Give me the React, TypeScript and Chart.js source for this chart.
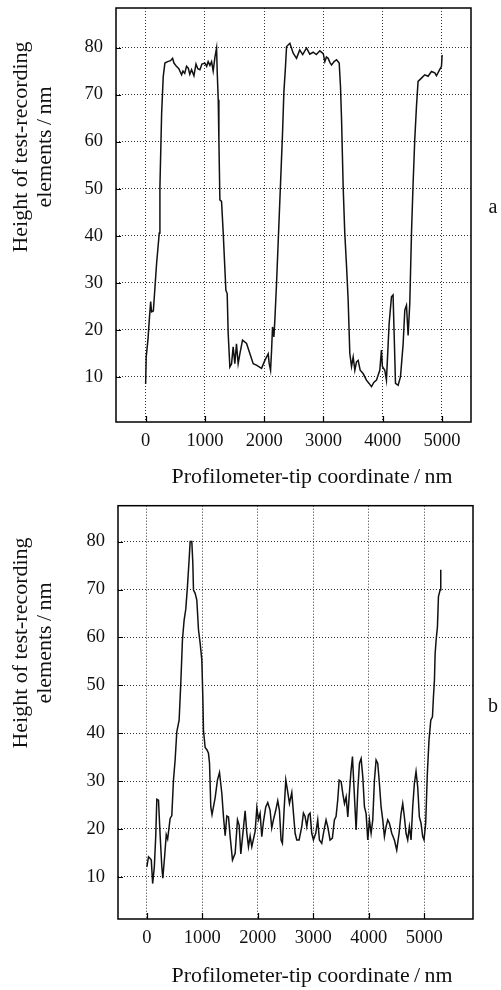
import React, { useEffect, useRef } from "react";
import { Chart, registerables } from "chart.js";

Chart.register(...registerables);

const xTickValues = [0, 1000, 2000, 3000, 4000, 5000];
const yTickValues = [10, 20, 30, 40, 50, 60, 70, 80];
const xTitle = "Profilometer-tip coordinate\u2009/\u2009nm";
const yTitleLine1 = "Height of test-recording";
const yTitleLine2 = "elements\u2009/\u2009nm";

// Panel a: profilometer coordinate (nm) and height (nm)
const coordA = [
  0, 10, 40, 61, 85, 100, 130, 185, 230, 241, 270, 297, 325, 370, 420, 455, 478, 520, 560, 607,
  630, 660, 690, 720, 745, 775, 815, 850, 880, 916, 950, 1000, 1030, 1055, 1085, 1113, 1140, 1170, 1197, 1208,
  1225, 1236, 1253, 1281, 1309, 1354, 1376, 1393, 1421, 1450, 1477, 1505, 1533, 1561, 1590, 1635, 1703, 1760, 1815, 1870,
  1956, 2012, 2068, 2085, 2108, 2125, 2141, 2164, 2180, 2209, 2265, 2310, 2332, 2360, 2378, 2434, 2490, 2546, 2600, 2650,
  2715, 2770, 2827, 2880, 2940, 2997, 3024, 3050, 3080, 3110, 3137, 3180, 3221, 3266, 3288, 3306, 3333, 3360, 3390, 3417,
  3445, 3474, 3502, 3530, 3558, 3586, 3620, 3670, 3726, 3770, 3811, 3850, 3895, 3951, 3979, 3995, 4035, 4063, 4109, 4148,
  4175, 4193, 4216, 4260, 4300, 4345, 4373, 4401, 4429, 4457, 4486, 4513, 4541, 4570, 4597, 4654, 4710, 4766, 4823, 4879,
  4907, 4952, 4992, 5003,
];
const heightA = [
  8.5, 14.3, 18, 22, 26, 23.8, 24, 34.1, 40.6, 50.4, 66, 73.8, 76.7, 77, 77.2, 77.7, 76.7, 76, 75.5, 74.2,
  75, 74.5, 76, 75.6, 74.3, 75.3, 74, 76.5, 75.5, 75.3, 76.5, 76.7, 76, 77, 76.2, 77, 75, 78, 79.9, 74.8,
  68.9, 60.4, 47.6, 47.3, 40.6, 28.4, 27.7, 19.2, 12.1, 12.8, 16.4, 12.8, 17, 12.8, 14.9, 17.8, 17.1, 14.9, 12.8, 12.5,
  11.8, 13.5, 14.9, 12.8, 11.4, 15.6, 20.6, 18.5, 22, 29.9, 47.6, 61.8, 70.3, 76, 80.2, 80.9, 78.8, 77.7, 79.5, 78.5,
  79.9, 78.6, 79, 78.5, 79.3, 78.7, 77, 78, 77.7, 76.8, 76.3, 77, 77.4, 76.7, 71.7, 64.6, 50.4, 40.6, 33.5, 26.4,
  15, 12.2, 14.2, 11.4, 13.2, 13.5, 11.4, 10.7, 9.3, 8.6, 7.9, 8.8, 9.3, 11.4, 15.7, 12.2, 11.4, 9.3, 21.4, 27,
  27.4, 19.2, 8.6, 8.2, 10, 17, 24.2, 25.2, 18.8, 25.6, 40.6, 51.1, 60.4, 67.5, 72.8, 73.5, 74.2, 73.9, 74.9, 74.6,
  74, 75.1, 76, 78.4,
];

// Panel b
const coordB = [
  0, 30, 55, 80, 105, 135, 160, 180, 210, 240, 270, 288, 320, 350, 375, 420, 450, 480, 510, 540,
  582, 612, 642, 672, 702, 732, 762, 781, 811, 829, 841, 871, 901, 931, 961, 991, 1009, 1021, 1051, 1085,
  1111, 1130, 1153, 1175, 1231, 1273, 1310, 1352, 1382, 1412, 1442, 1472, 1502, 1544, 1592, 1634, 1664, 1694, 1724, 1772,
  1802, 1832, 1862, 1892, 1952, 1983, 2012, 2042, 2072, 2102, 2144, 2180, 2222, 2252, 2282, 2324, 2360, 2390, 2420, 2444,
  2474, 2505, 2535, 2571, 2613, 2643, 2673, 2703, 2745, 2793, 2823, 2853, 2883, 2913, 2943, 2973, 3003, 3045, 3081, 3111,
  3153, 3195, 3231, 3261, 3303, 3345, 3381, 3411, 3441, 3467, 3503, 3533, 3563, 3593, 3623, 3647, 3677, 3707, 3737, 3773,
  3803, 3833, 3863, 3893, 3923, 3953, 3983, 4013, 4043, 4073, 4103, 4133, 4163, 4193, 4223, 4253, 4283, 4313, 4343, 4373,
  4415, 4463, 4505, 4547, 4583, 4613, 4643, 4673, 4703, 4733, 4763, 4793, 4823, 4853, 4883, 4913, 4943, 4973, 4997, 5027,
  5057, 5087, 5119, 5149, 5167, 5185, 5197, 5215, 5239, 5257, 5287, 5299,
];
const heightB = [
  12.1, 14.2, 13.9, 13.5, 8.6, 12.1, 18.4, 26.2, 26, 18.6, 12.1, 9.7, 14.2, 18.8, 17.9, 22.2, 22.8, 30.2, 34.4, 40.3,
  42.7, 50.4, 59.5, 63.6, 65.9, 70.6, 76.2, 80, 80, 75.5, 69.9, 69.2, 67.8, 61.6, 58.8, 55.3, 47.7, 40.6, 37, 36.5,
  35.8, 33.7, 24.6, 23, 26.5, 30.2, 31.8, 27.4, 22.5, 18.6, 22.7, 22.5, 18.4, 13.5, 14.9, 21.9, 20.8, 14.8, 18.2, 23.8,
  19.2, 16.3, 18.5, 16.3, 19.5, 24.4, 22, 23.3, 18.4, 21.5, 24.6, 25.5, 23.9, 20.2, 21.9, 23.9, 25.9, 23.9, 17.7, 17,
  23.9, 30.2, 28.1, 25.3, 27.6, 23.3, 19.1, 17.7, 17.7, 20.5, 23.3, 22.6, 20.5, 22.9, 23.3, 19.1, 17.7, 19.1, 21.9, 17.7,
  17, 19.8, 21.9, 20.5, 17.7, 18.1, 21.9, 22.6, 26, 30.2, 29.9, 27.4, 25.3, 26.7, 22.5, 26.7, 31.6, 35.1, 28.1, 19.8,
  28.1, 33.7, 34.7, 30.9, 24.6, 23.2, 17.7, 21.9, 19.1, 21.9, 30.2, 34.4, 33.7, 29.5, 24.6, 21.9, 18.4, 20.5, 21.9, 21.2,
  19.1, 17.7, 15.6, 19.1, 23.2, 25.3, 22.5, 19.1, 17.7, 20.5, 17.7, 24.6, 29.5, 32, 28.8, 22.5, 21.2, 18.4, 17.7, 21.2,
  31.6, 38.6, 42.7, 43.4, 47.6, 51.1, 56.6, 59.4, 62.2, 68.5, 69.9, 74.1,
];

const SERIF = '"Liberation Serif", "Times New Roman", serif';

type PanelCfg = {
  xs: number[];
  ys: number[];
  xMin: number;
  xMax: number;
  yMin: number;
  yMax: number;
  padTop: number;
  padRight: number;
  yAxisWidth: number;
  xAxisHeight: number;
  letter: string;
  letterY: number;
  xTitleY: number;
  yTitleY: number;
};

function stretchedText(ctx: CanvasRenderingContext2D, text: string, x: number, y: number, targetWidth: number) {
  const w = ctx.measureText(text).width;
  const s = targetWidth / w;
  ctx.save();
  ctx.translate(x, y);
  ctx.scale(s, 1);
  ctx.fillText(text, 0, 0);
  ctx.restore();
}

const decorPlugin = {
  id: "decor",
  afterDraw(chart: any, _args: any, o: any) {
    const { ctx, chartArea: a, scales } = chart;
    ctx.save();
    ctx.strokeStyle = "#000";
    ctx.lineWidth = 1.5;
    ctx.setLineDash([]);
    ctx.strokeRect(a.left, a.top, a.right - a.left, a.bottom - a.top);
    ctx.lineWidth = 1.2;
    ctx.beginPath();
    xTickValues.forEach((v) => {
      const px = Math.round(scales.x.getPixelForValue(v)) + 0.5;
      ctx.moveTo(px, a.bottom);
      ctx.lineTo(px, a.bottom - 6);
    });
    yTickValues.forEach((v) => {
      const py = Math.round(scales.y.getPixelForValue(v)) + 0.5;
      ctx.moveTo(a.left, py);
      ctx.lineTo(a.left + 5, py);
    });
    ctx.stroke();

    ctx.fillStyle = "#111";
    ctx.font = `20px ${SERIF}`;
    ctx.textAlign = "center";
    ctx.textBaseline = "alphabetic";
    stretchedText(ctx, xTitle, 312, o.xTitleY, 281);

    ctx.textAlign = "center";
    ctx.textBaseline = "middle";
    ctx.fillText(o.letter, 493, o.letterY);

    ctx.save();
    ctx.translate(34, o.yTitleY);
    ctx.rotate(-Math.PI / 2);
    const w1 = ctx.measureText(yTitleLine1).width;
    const s = 211 / w1;
    ctx.scale(s, 1);
    ctx.fillText(yTitleLine1, 0, -12);
    ctx.fillText(yTitleLine2, 0, 12);
    ctx.restore();
    ctx.restore();
  },
};

function Panel({ cfg, top }: { cfg: PanelCfg; top: number }) {
  const ref = useRef<HTMLCanvasElement | null>(null);
  useEffect(() => {
    if (!ref.current) return;
    const points = cfg.xs.map((x, i) => ({ x, y: cfg.ys[i] }));
    const tickFont = { family: SERIF, size: 18.5 };
    const chart = new Chart(ref.current, {
      type: "line",
      data: {
        datasets: [
          {
            data: points,
            borderColor: "#111",
            borderWidth: 1.5,
            pointRadius: 0,
            tension: 0,
            fill: false,
          },
        ],
      },
      options: {
        responsive: false,
        animation: false,
        devicePixelRatio: 1,
        layout: {
          autoPadding: false,
          padding: { top: cfg.padTop, right: cfg.padRight, left: 0, bottom: 0 },
        },
        plugins: {
          legend: { display: false },
          tooltip: { enabled: false },
          decor: {
            letter: cfg.letter,
            letterY: cfg.letterY,
            xTitleY: cfg.xTitleY,
            yTitleY: cfg.yTitleY,
          },
        } as any,
        scales: {
          x: {
            type: "linear",
            min: cfg.xMin,
            max: cfg.xMax,
            afterBuildTicks: (s: any) => {
              s.ticks = xTickValues.map((v) => ({ value: v }));
            },
            afterFit: (s: any) => {
              s.height = cfg.xAxisHeight;
              s.paddingLeft = 0;
              s.paddingRight = 0;
              s.paddingTop = 0;
              s.paddingBottom = 0;
            },
            grid: {
              color: "#333",
              lineWidth: 1,
              drawTicks: false,
              borderDash: [1, 2],
            } as any,
            border: { display: false, dash: [1, 2] },
            ticks: {
              color: "#111",
              font: tickFont,
              padding: 8,
              maxRotation: 0,
              autoSkip: false,
              callback: (v: any) => String(v),
            },
          },
          y: {
            type: "linear",
            min: cfg.yMin,
            max: cfg.yMax,
            afterBuildTicks: (s: any) => {
              s.ticks = yTickValues.map((v) => ({ value: v }));
            },
            afterFit: (s: any) => {
              s.width = cfg.yAxisWidth;
              s.paddingLeft = 0;
              s.paddingRight = 0;
              s.paddingTop = 0;
              s.paddingBottom = 0;
            },
            grid: {
              color: "#333",
              lineWidth: 1,
              drawTicks: false,
              borderDash: [1, 2],
            } as any,
            border: { display: false, dash: [1, 2] },
            ticks: {
              color: "#111",
              font: tickFont,
              padding: 13,
              autoSkip: false,
              callback: (v: any) => String(v),
            },
          },
        },
      },
      plugins: [decorPlugin],
    });
    return () => chart.destroy();
  }, [cfg]);
  return (
    <canvas
      ref={ref}
      width={501}
      height={495}
      style={{ position: "absolute", left: 0, top, width: 501, height: 495 }}
    />
  );
}

const cfgA: PanelCfg = {
  xs: coordA,
  ys: heightA,
  xMin: -500,
  xMax: 5490,
  yMin: 0.4,
  yMax: 88.4,
  padTop: 8,
  padRight: 30,
  yAxisWidth: 116,
  xAxisHeight: 73,
  letter: "a",
  letterY: 208,
  xTitleY: 483,
  yTitleY: 147,
};

const cfgB: PanelCfg = {
  xs: coordB,
  ys: heightB,
  xMin: -520,
  xMax: 5880,
  yMin: 1.2,
  yMax: 87.5,
  padTop: 10.7,
  padRight: 28,
  yAxisWidth: 118,
  xAxisHeight: 71,
  letter: "b",
  letterY: 212,
  xTitleY: 487,
  yTitleY: 148,
};

export default function App() {
  return (
    <div style={{ position: "absolute", left: 0, top: 0, width: 501, height: 990, background: "#fff" }}>
      <Panel cfg={cfgA} top={0} />
      <Panel cfg={cfgB} top={495} />
    </div>
  );
}
